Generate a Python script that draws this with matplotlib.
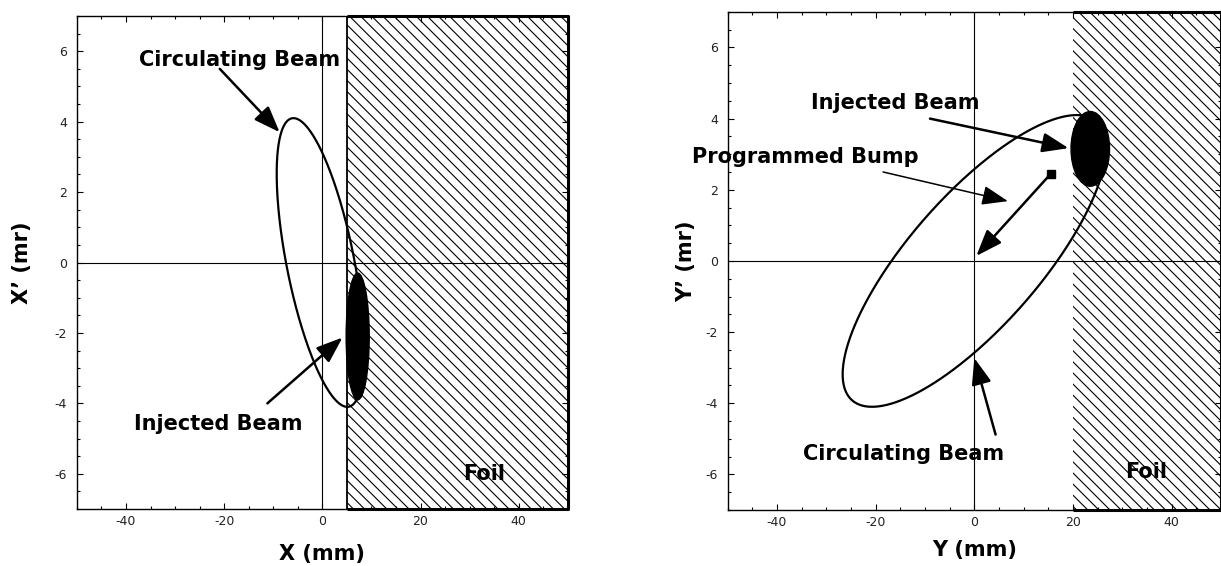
import numpy as np
import matplotlib.pyplot as plt
from matplotlib.patches import Ellipse, Rectangle
from matplotlib.ticker import AutoMinorLocator

plt.rcParams['font.family'] = ['DejaVu Sans']
plt.rcParams['axes.unicode_minus'] = False
plt.rcParams['hatch.linewidth'] = 0.8

# common frame
pos_lim = [-50, 50]
ang_lim = [-7, 7]
pos_ticks = [-40, -20, 0, 20, 40]
ang_ticks = [-6, -4, -2, 0, 2, 4, 6]

# horizontal plane (left panel)
x_foil = [5, 50]
x_circ = [-0.4, 8.9, 4.1, 128]      # centre (mm), half-width (mm), half-height (mr), phase (deg)
x_inj = [7.2, -2.1, 4.7, 3.6]       # centre x, centre x', full width, full height

# vertical plane (right panel)
y_foil = [20, 50]
y_circ = [0.0, 26.7, 4.1, 39]
y_inj = [23.5, 3.15, 7.8, 2.1]
y_bump = [15.5, 2.45]
y_bump_end = [0.4, 0.14]


def ring(p):
    t = np.linspace(0, 2 * np.pi, 400)
    return p[0] + p[1] * np.cos(t), p[2] * np.cos(t + np.radians(p[3]))


def arrow(ax, tail, head, lw=1.8):
    ax.annotate("", xy=head, xytext=tail, zorder=6,
                arrowprops=dict(arrowstyle="-|>,head_length=0.8,head_width=0.3",
                                color="black", lw=lw, mutation_scale=20,
                                shrinkA=0, shrinkB=0))


def setup(ax, foil, xlabel, ylabel, ylab_x, xlab_y, left_edge):
    ax.set_xlim(pos_lim)
    ax.set_ylim(ang_lim)
    ax.set_xticks(pos_ticks)
    ax.set_yticks(ang_ticks)
    ax.xaxis.set_minor_locator(AutoMinorLocator(4))
    ax.yaxis.set_minor_locator(AutoMinorLocator(4))
    ax.tick_params(which='both', direction='in', top=True, right=True, width=0.8)
    ax.tick_params(which='major', length=4)
    ax.tick_params(which='minor', length=2)
    ax.tick_params(axis='y', pad=7, labelsize=9, labelcolor='#222222')
    ax.tick_params(axis='x', pad=4, labelsize=9, labelcolor='#222222')
    for s in ax.spines.values():
        s.set_linewidth(1.0)
    ax.axhline(0, color='black', lw=0.8, zorder=2)
    ax.axvline(0, color='black', lw=0.8, zorder=2)
    ax.add_patch(Rectangle((foil[0], ang_lim[0]), foil[1] - foil[0], ang_lim[1] - ang_lim[0],
                           facecolor='white', edgecolor='black', hatch='\\\\\\',
                           lw=0, zorder=1))
    # heavy outline of the foil on the frame
    ax.plot([foil[0], foil[1], foil[1], foil[0]],
            [ang_lim[1], ang_lim[1], ang_lim[0], ang_lim[0]],
            color='black', lw=2.2, clip_on=False, zorder=5, solid_capstyle='butt')
    if left_edge:
        ax.plot([foil[0], foil[0]], ang_lim, color='black', lw=1.3, zorder=2)
    ax.set_xlabel(xlabel, fontsize=15, fontweight='bold')
    ax.set_ylabel(ylabel, fontsize=15, fontweight='bold')
    ax.yaxis.set_label_coords(ylab_x, 0.5)
    ax.xaxis.set_label_coords(0.5, xlab_y)


fig = plt.figure(figsize=(12.21, 5.66), dpi=100)
ax1 = fig.add_axes([0.063, 0.1007, 0.402, 0.871])
ax2 = fig.add_axes([0.596, 0.099, 0.404, 0.880])

# left: horizontal phase space
setup(ax1, x_foil, "X (mm)", "X\u2019 (mr)", -0.092, -0.071, True)
cx, cy = ring(x_circ)
ax1.plot(cx, cy, color='black', lw=1.6, zorder=3)
ax1.add_patch(Ellipse((x_inj[0], x_inj[1]), x_inj[2], x_inj[3], color='black', zorder=4))
ax1.text(-16.9, 5.74, "Circulating Beam", fontsize=15, fontweight='bold', ha='center', va='center', zorder=7)
arrow(ax1, (-20.9, 5.5), (-8.7, 3.7))
ax1.text(-21.3, -4.6, "Injected Beam", fontsize=15, fontweight='bold', ha='center', va='center', zorder=7)
arrow(ax1, (-11.2, -4.0), (4.1, -2.13))
ax1.text(32.9, -6.0, "Foil", fontsize=15, fontweight='bold', ha='center', va='center', zorder=7)

# right: vertical phase space
setup(ax2, y_foil, "Y (mm)", "Y\u2019 (mr)", -0.063, -0.06, False)
cx, cy = ring(y_circ)
ax2.plot(cx, cy, color='black', lw=1.6, zorder=3)
ax2.add_patch(Ellipse((y_inj[0], y_inj[1]), y_inj[2], y_inj[3], color='black', zorder=4))
ax2.plot([y_bump[0]], [y_bump[1]], marker='s', ms=6, color='black', zorder=5)
arrow(ax2, tuple(y_bump), tuple(y_bump_end))
ax2.text(-16.0, 4.43, "Injected Beam", fontsize=15, fontweight='bold', ha='center', va='center', zorder=7)
arrow(ax2, (-9.0, 4.0), (19.1, 3.17))
ax2.text(-34.3, 2.92, "Programmed Bump", fontsize=15, fontweight='bold', ha='center', va='center', zorder=7)
arrow(ax2, (-18.5, 2.5), (6.8, 1.68), lw=1.1)
ax2.text(-14.4, -5.43, "Circulating Beam", fontsize=15, fontweight='bold', ha='center', va='center', zorder=7)
arrow(ax2, (4.3, -4.88), (0.0, -2.73))
ax2.text(34.9, -5.92, "Foil", fontsize=15, fontweight='bold', ha='center', va='center', zorder=7)

fig.savefig("out.png", dpi=100)
